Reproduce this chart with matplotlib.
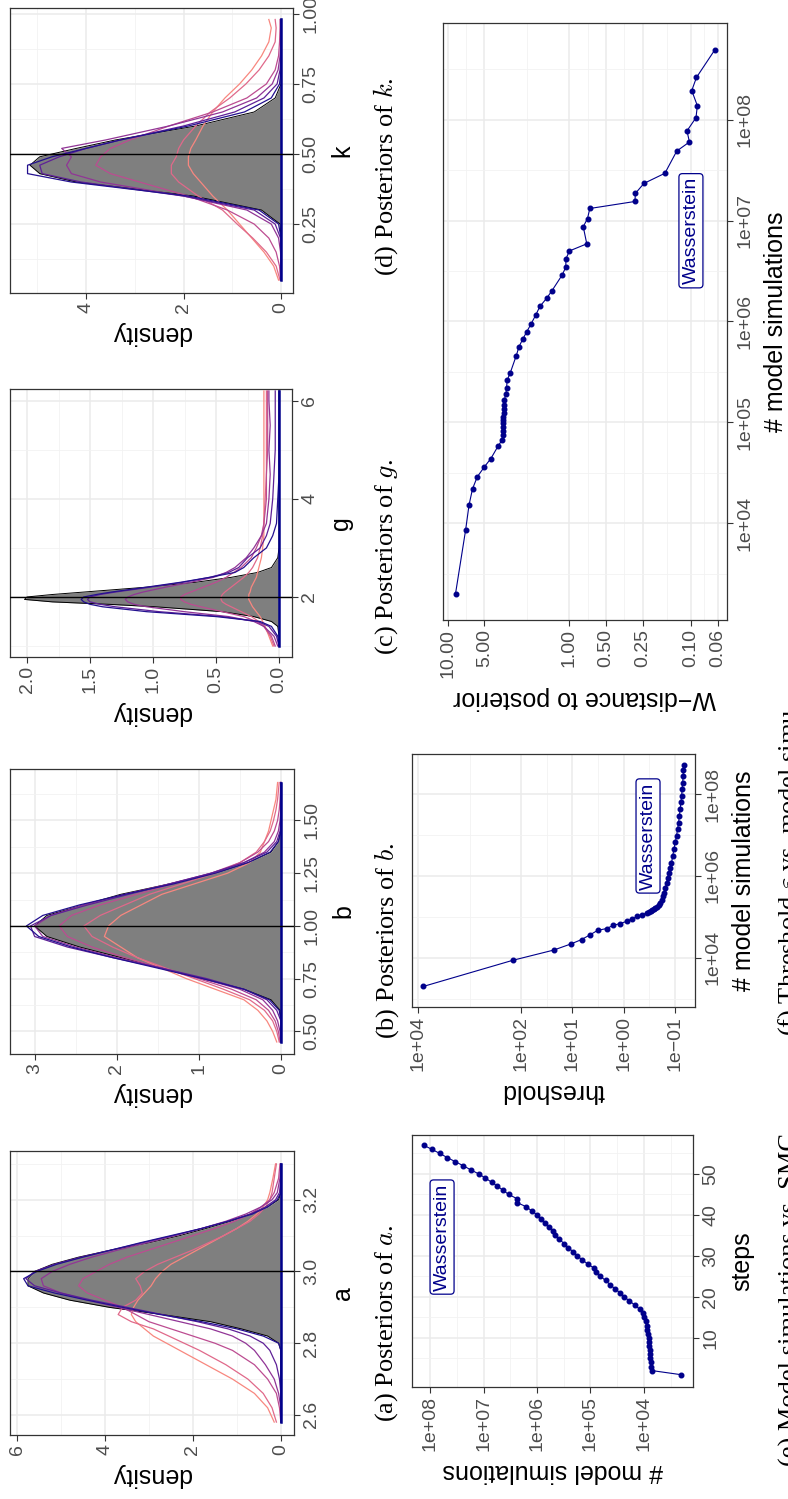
import numpy as np
import matplotlib
matplotlib.use('Agg')
import matplotlib.pyplot as plt

# ---------------- data ----------------
# posterior density panels: parameter grid, gray reference posterior,
# and a handful of SMC-step curves (early -> late)
a_grid = [2.58, 2.62, 2.66, 2.70, 2.74, 2.78, 2.80, 2.82, 2.84, 2.86, 2.88, 2.90, 2.92, 2.94, 2.96,
          2.98, 3.00, 3.02, 3.04, 3.06, 3.08, 3.10, 3.12, 3.14, 3.16, 3.18, 3.20, 3.22, 3.26, 3.30]
a_post = [0, 0, 0, 0, 0, 0, 0.05, 0.3, 0.9, 1.6, 2.7, 3.9, 4.8, 5.4, 5.75,
          5.75, 5.6, 5.2, 4.6, 3.85, 3.0, 2.3, 1.7, 1.15, 0.7, 0.3, 0.05, 0, 0, 0]
a_steps = [
    [0.15, 0.3, 0.6, 1.1, 1.7, 2.3, 2.6, 2.9, 3.1, 3.3, 3.4, 3.35, 3.25, 3.1, 2.95,
     2.85, 2.7, 2.5, 2.2, 1.9, 1.6, 1.3, 1.0, 0.75, 0.55, 0.4, 0.3, 0.25, 0.18, 0.12],
    [0.1, 0.2, 0.4, 0.75, 1.25, 1.85, 2.2, 2.55, 2.9, 3.4, 3.7, 3.6, 3.3, 3.15, 3.2,
     3.3, 3.1, 2.8, 2.4, 2.0, 1.65, 1.3, 1.0, 0.7, 0.5, 0.35, 0.25, 0.2, 0.15, 0.1],
    [0.0, 0.03, 0.1, 0.3, 0.6, 1.1, 1.5, 2.0, 2.5, 3.0, 3.3, 3.6, 4.0, 4.4, 4.6,
     4.5, 4.2, 3.9, 3.5, 3.0, 2.5, 2.0, 1.5, 1.05, 0.7, 0.45, 0.25, 0.15, 0.05, 0.02],
    [0, 0, 0.05, 0.15, 0.35, 0.6, 0.8, 1.1, 1.6, 2.3, 3.0, 3.7, 4.4, 5.0, 5.4,
     5.45, 5.2, 4.8, 4.3, 3.7, 3.05, 2.4, 1.8, 1.25, 0.8, 0.45, 0.2, 0.08, 0.02, 0],
    [0, 0, 0, 0.03, 0.1, 0.25, 0.4, 0.7, 1.2, 1.9, 2.7, 3.5, 4.3, 5.0, 5.6,
     5.8, 5.6, 5.15, 4.55, 3.85, 3.15, 2.45, 1.8, 1.2, 0.7, 0.35, 0.12, 0.03, 0, 0],
    [0, 0, 0, 0, 0, 0, 0.05, 0.4, 1.0, 1.8, 2.75, 3.6, 4.4, 5.15, 5.75,
     5.85, 5.55, 5.1, 4.5, 3.85, 3.2, 2.5, 1.8, 1.2, 0.65, 0.3, 0.08, 0, 0, 0],
]

b_grid = [0.45, 0.50, 0.55, 0.60, 0.65, 0.70, 0.75, 0.80, 0.85, 0.90, 0.95, 1.00, 1.05,
          1.10, 1.15, 1.20, 1.25, 1.30, 1.35, 1.40, 1.45, 1.50, 1.55, 1.60, 1.68]
b_post = [0, 0, 0, 0.01, 0.12, 0.45, 0.95, 1.45, 1.95, 2.45, 2.85, 3.0, 2.85,
          2.4, 1.95, 1.35, 0.8, 0.4, 0.12, 0.03, 0, 0, 0, 0, 0]
b_steps = [
    [0.05, 0.1, 0.17, 0.28, 0.45, 0.8, 1.15, 1.45, 1.75, 1.95, 2.15, 2.1, 1.95,
     1.7, 1.45, 1.05, 0.65, 0.38, 0.25, 0.2, 0.15, 0.12, 0.09, 0.06, 0.04],
    [0.02, 0.05, 0.1, 0.2, 0.38, 0.7, 1.05, 1.4, 1.75, 2.05, 2.3, 2.4, 2.2,
     1.9, 1.6, 1.2, 0.8, 0.5, 0.3, 0.2, 0.13, 0.09, 0.06, 0.04, 0.02],
    [0.01, 0.03, 0.07, 0.15, 0.3, 0.6, 1.0, 1.45, 1.9, 2.3, 2.6, 2.7, 2.55,
     2.2, 1.75, 1.3, 0.85, 0.5, 0.28, 0.15, 0.08, 0.04, 0.02, 0.01, 0],
    [0, 0.01, 0.04, 0.1, 0.22, 0.5, 0.95, 1.45, 2.0, 2.5, 2.9, 3.0, 2.8,
     2.4, 1.9, 1.35, 0.85, 0.45, 0.2, 0.08, 0.03, 0.01, 0, 0, 0],
    [0, 0, 0, 0.05, 0.17, 0.45, 0.9, 1.45, 2.05, 2.6, 3.0, 3.05, 2.8,
     2.35, 1.85, 1.35, 0.85, 0.45, 0.17, 0.05, 0.01, 0, 0, 0, 0],
    [0, 0, 0, 0.02, 0.14, 0.45, 0.95, 1.5, 2.05, 2.55, 2.95, 3.1, 2.9,
     2.45, 1.9, 1.3, 0.8, 0.4, 0.13, 0.03, 0, 0, 0, 0, 0],
]

g_grid = [1.0, 1.2, 1.4, 1.5, 1.6, 1.7, 1.8, 1.85, 1.9, 1.95, 2.0, 2.05, 2.1, 2.2,
          2.3, 2.4, 2.5, 2.6, 2.8, 3.0, 3.25, 3.5, 4.0, 4.5, 5.0, 5.5, 6.0, 6.2]
g_post = [0, 0, 0.01, 0.06, 0.2, 0.45, 0.98, 1.35, 1.8, 2.02, 2.0, 1.8, 1.55, 1.05,
          0.66, 0.38, 0.17, 0.06, 0.01, 0, 0, 0, 0, 0, 0, 0, 0, 0]
g_steps = [
    [0.05, 0.08, 0.11, 0.13, 0.15, 0.18, 0.21, 0.22, 0.23, 0.24, 0.24, 0.24, 0.23, 0.22,
     0.2, 0.18, 0.17, 0.16, 0.14, 0.13, 0.12, 0.12, 0.12, 0.12, 0.12, 0.12, 0.12, 0.12],
    [0.04, 0.07, 0.12, 0.16, 0.22, 0.3, 0.38, 0.42, 0.45, 0.46, 0.46, 0.45, 0.43, 0.38,
     0.33, 0.28, 0.24, 0.21, 0.17, 0.15, 0.13, 0.12, 0.11, 0.1, 0.1, 0.1, 0.1, 0.1],
    [0.03, 0.06, 0.12, 0.18, 0.28, 0.45, 0.62, 0.7, 0.75, 0.78, 0.78, 0.75, 0.7, 0.6,
     0.5, 0.42, 0.36, 0.3, 0.22, 0.18, 0.14, 0.12, 0.1, 0.1, 0.09, 0.09, 0.09, 0.09],
    [0.01, 0.04, 0.12, 0.2, 0.4, 0.75, 1.05, 1.15, 1.2, 1.22, 1.2, 1.15, 1.08, 0.9,
     0.7, 0.52, 0.42, 0.35, 0.26, 0.2, 0.14, 0.1, 0.08, 0.07, 0.08, 0.07, 0.08, 0.08],
    [0, 0.02, 0.08, 0.17, 0.45, 0.95, 1.3, 1.42, 1.5, 1.52, 1.5, 1.42, 1.3, 1.02,
     0.76, 0.55, 0.4, 0.32, 0.25, 0.15, 0.1, 0.07, 0.05, 0.04, 0.03, 0.03, 0.03, 0.03],
    [0, 0.01, 0.06, 0.15, 0.5, 1.05, 1.4, 1.5, 1.55, 1.57, 1.55, 1.45, 1.33, 1.05,
     0.78, 0.55, 0.35, 0.28, 0.2, 0.1, 0.05, 0.02, 0.01, 0, 0, 0, 0, 0],
]

k_grid = [0.05, 0.10, 0.15, 0.20, 0.25, 0.30, 0.35, 0.40, 0.43, 0.46, 0.49,
          0.52, 0.55, 0.60, 0.65, 0.70, 0.75, 0.80, 0.85, 0.90, 0.95, 0.98]
k_post = [0, 0, 0, 0, 0.02, 0.4, 1.8, 4.2, 4.95, 5.15, 4.95,
          4.2, 3.4, 1.75, 0.55, 0.12, 0, 0, 0, 0, 0, 0]
k_steps = [
    [0.05, 0.15, 0.35, 0.6, 0.85, 1.1, 1.4, 1.65, 1.8, 1.9, 1.9,
     1.85, 1.75, 1.6, 1.4, 1.15, 0.85, 0.6, 0.4, 0.25, 0.2, 0.25],
    [0.02, 0.1, 0.3, 0.58, 0.9, 1.2, 1.7, 2.1, 2.25, 2.25, 2.15,
     2.1, 2.0, 1.75, 1.45, 1.05, 0.72, 0.45, 0.25, 0.12, 0.1, 0.12],
    [0.01, 0.03, 0.1, 0.25, 0.55, 1.1, 1.9, 2.9, 3.5, 3.8, 3.7,
     3.5, 3.1, 2.3, 1.4, 0.7, 0.3, 0.12, 0.05, 0.03, 0.02, 0.02],
    [0, 0, 0.01, 0.05, 0.2, 0.7, 2.0, 3.7, 4.3, 4.4, 4.3,
     4.5, 3.6, 2.3, 1.2, 0.5, 0.18, 0.06, 0.02, 0, 0, 0],
    [0, 0, 0, 0.01, 0.12, 0.55, 2.0, 4.1, 4.9, 4.95, 4.55,
     4.0, 3.3, 2.0, 0.95, 0.35, 0.08, 0.02, 0, 0, 0, 0],
    [0, 0, 0, 0, 0.05, 0.45, 1.9, 4.3, 5.2, 5.2, 4.7,
     4.0, 3.3, 1.9, 0.75, 0.2, 0.03, 0, 0, 0, 0, 0],
]

# (e) model simulations per SMC step
e_steps = list(range(1, 58))
e_sims = [2.0e3, 7.0e3, 7.2e3, 7.4e3, 7.6e3, 7.7e3, 7.8e3, 7.9e3, 8.0e3, 8.1e3,
          8.3e3, 8.6e3, 8.9e3, 9.3e3, 9.8e3, 1.02e4, 1.2e4, 1.48e4, 1.86e4, 2.34e4,
          2.8e4, 3.5e4, 4.3e4, 5.2e4, 6.5e4, 7.9e4, 8.5e4, 1.12e5, 1.41e5, 1.78e5,
          2.1e5, 2.6e5, 3.1e5, 3.8e5, 4.6e5, 5.0e5, 6.0e5, 7.2e5, 8.5e5, 1.0e6,
          1.26e6, 1.6e6, 2.35e6, 2.4e6, 3.4e6, 4.3e6, 5.5e6, 7.1e6, 9.3e6, 1.23e7,
          1.74e7, 2.4e7, 3.4e7, 4.8e7, 6.6e7, 9.3e7, 1.32e8]

# (f) threshold vs model simulations
f_thresh = [8000, 145, 23, 10.5, 6.6, 4.6, 3.2, 2.15, 1.6, 1.17, 0.87, 0.68, 0.54, 0.44, 0.35,
            0.316, 0.295, 0.275, 0.257, 0.240, 0.224, 0.209, 0.195, 0.182, 0.174,
            0.162, 0.155, 0.145, 0.138, 0.132, 0.124, 0.117, 0.111, 0.105, 0.0989,
            0.0933, 0.0891, 0.0851, 0.0822, 0.0794, 0.0767, 0.0741, 0.0724, 0.0708,
            0.0692, 0.0684, 0.0676]
f_sims = [2.0e3, 8.7e3, 1.55e4, 2.2e4, 2.8e4, 3.6e4, 4.7e4, 5.2e4, 6.2e4, 6.9e4, 7.8e4,
          8.9e4, 1.05e5, 1.12e5, 1.26e5,
          1.35e5, 1.41e5, 1.48e5, 1.55e5, 1.66e5, 1.78e5, 1.95e5, 2.19e5, 2.63e5, 3.16e5,
          3.8e5, 5.0e5, 6.76e5, 8.9e5, 1.2e6, 1.58e6, 2.09e6, 3.0e6, 4.47e6, 6.6e6,
          9.5e6, 1.38e7, 2.0e7, 2.88e7, 4.27e7, 6.3e7, 9.1e7, 1.32e8, 1.9e8,
          2.75e8, 3.8e8, 5.25e8]

# W-distance to posterior vs model simulations
w_dist = [8.65, 7.15, 6.7, 6.27, 5.73, 5.0, 4.43, 3.84, 3.6, 3.51, 3.51, 3.50, 3.50,
          3.49, 3.49, 3.48, 3.48, 3.46, 3.44, 3.33, 3.29, 3.25, 3.07, 2.74, 2.6, 2.41,
          2.24, 2.06, 1.90, 1.75, 1.54, 1.40, 1.15, 1.07, 1.07, 1.0, 0.72, 0.77, 0.71,
          0.68, 0.289, 0.287, 0.244, 0.164, 0.131, 0.103, 0.108, 0.091, 0.0887,
          0.0986, 0.0902, 0.064]
w_sims = [2.0e3, 8.5e3, 1.51e4, 2.19e4, 2.88e4, 3.63e4, 4.37e4, 5.89e4, 6.61e4, 7.41e4,
          8.13e4, 8.91e4, 9.77e4, 1.05e5, 1.12e5, 1.23e5, 1.35e5, 1.48e5, 1.66e5, 1.91e5,
          2.19e5, 2.63e5, 3.09e5, 4.57e5, 5.62e5, 6.76e5, 7.94e5, 9.55e5, 1.15e6, 1.41e6,
          1.70e6, 2.0e6, 2.88e6, 3.47e6, 4.17e6, 5.01e6, 5.89e6, 8.71e6, 1.05e7, 1.32e7,
          1.55e7, 1.86e7, 2.34e7, 2.95e7, 4.9e7, 6.03e7, 7.76e7, 1.05e8, 1.38e8, 1.95e8,
          2.63e8, 4.9e8]

sim_ticks = [1e4, 1e5, 1e6, 1e7, 1e8]
sim_labels = ['1e+04', '1e+05', '1e+06', '1e+07', '1e+08']
thr_ticks = [1e4, 1e2, 1e1, 1e0, 1e-1]
thr_labels = ['1e+04', '1e+02', '1e+01', '1e+00', '1e\u221201']
w_ticks = [10, 5, 1, 0.5, 0.25, 0.1, 0.06]
w_labels = ['10.00', '5.00', '1.00', '0.50', '0.25', '0.10', '0.06']

# ---------------- figure ----------------
plt.rcParams['font.family'] = ['Liberation Sans', 'DejaVu Sans']
plt.rcParams['mathtext.fontset'] = 'cm'

W, H = 788, 1499
fig = plt.figure(figsize=(W / 100, H / 100), dpi=100)

INK = '#333333'
TICKC = '#4D4D4D'
BLUE = '#00008B'
CURVE_COLS = ['#F8877F', '#E0698A', '#BC4C91', '#913596', '#5E2097', '#23108F']
TICK_FS = 14
TITLE_FS = 18
CAP_FS = 19


def px_axes(x0, y0, x1, y1):
    return fig.add_axes([x0 / W, 1 - y1 / H, (x1 - x0) / W, (y1 - y0) / H])


def mids(ticks, lo, hi, log=False):
    t = np.sort(np.log10(ticks) if log else np.asarray(ticks, float))
    ext = np.concatenate([[2 * t[0] - t[1]], t, [2 * t[-1] - t[-2]]])
    m = (ext[:-1] + ext[1:]) / 2
    if log:
        m = 10 ** m
    return [v for v in m if min(lo, hi) < v < max(lo, hi)]


def style(ax):
    for s in ax.spines.values():
        s.set_color(INK)
        s.set_linewidth(0.9)
    ax.set_axisbelow(True)
    ax.grid(which='major', color='#EBEBEB', lw=1.1)
    ax.grid(which='minor', color='#F2F2F2', lw=0.6)
    ax.tick_params(which='major', length=4, width=0.8, color=INK,
                   labelcolor=TICKC, labelsize=TICK_FS, pad=2.5)
    ax.tick_params(which='minor', length=0)
    ax.yaxis.tick_right()
    ax.yaxis.set_label_position('right')


def density_panel(box, grid, post, steps, truth, plim, dlim,
                  pticks, plabels, dticks, dlabels, name):
    ax = px_axes(*box)
    style(ax)
    ax.set_ylim(plim)
    ax.set_xlim(dlim[1], dlim[0])
    ax.set_yticks(pticks, plabels, rotation=90, va='center')
    ax.set_xticks(dticks, dlabels, rotation=90)
    ax.set_yticks(mids(pticks, *plim), minor=True)
    ax.set_xticks(mids(dticks, *dlim), minor=True)
    ax.fill_betweenx(grid, 0, post, color='#7F7F7F', lw=0, zorder=2)
    ax.plot(post, grid, color='black', lw=0.7, zorder=2)
    for dens, col in zip(steps, CURVE_COLS):
        ax.plot(dens, grid, color=col, lw=0.9, zorder=3)
    ax.plot([0, 0], [grid[0], grid[-1]], color=BLUE, lw=1.8, zorder=4)
    ax.axhline(truth, color='black', lw=1.0, zorder=5)
    ax.set_ylabel(name, rotation=90, fontsize=TITLE_FS, labelpad=8)
    ax.set_xlabel('density', rotation=180, fontsize=TITLE_FS, labelpad=6)
    return ax


density_panel((10, 8, 293, 293), k_grid, k_post, k_steps, 0.5, (0.004, 1.021), (-0.246, 5.56),
              [0.25, 0.5, 0.75, 1.0], ['0.25', '0.50', '0.75', '1.00'],
              [0, 2, 4], ['0', '2', '4'], 'k')
density_panel((10, 389, 292, 657), g_grid, g_post, g_steps, 2.0, (0.776, 6.24), (-0.103, 2.135),
              [2, 4, 6], ['2', '4', '6'],
              [0, 0.5, 1.0, 1.5, 2.0], ['0.0', '0.5', '1.0', '1.5', '2.0'], 'g')
density_panel((10, 769, 294, 1054), b_grid, b_post, b_steps, 1.0, (0.393, 1.744), (-0.16, 3.30),
              [0.5, 0.75, 1.0, 1.25, 1.5], ['0.50', '0.75', '1.00', '1.25', '1.50'],
              [0, 1, 2, 3], ['0', '1', '2', '3'], 'b')
density_panel((10, 1151, 294, 1435), a_grid, a_post, a_steps, 3.0, (2.544, 3.336), (-0.3, 6.16),
              [2.6, 2.8, 3.0, 3.2], ['2.6', '2.8', '3.0', '3.2'],
              [0, 2, 4, 6], ['0', '2', '4', '6'], 'a')


def line_panel(box, xs, ys, xlim, ylim, xlog, ylog, xticks, xlabels, yticks, ylabels,
               xtitle, ytitle, lab_pos):
    ax = px_axes(*box)
    style(ax)
    if xlog:
        ax.set_xscale('log')
    if ylog:
        ax.set_yscale('log')
    ax.set_xlim(xlim)
    ax.set_ylim(ylim)
    ax.set_xticks(xticks, xlabels, rotation=90)
    ax.set_yticks(yticks, ylabels, rotation=90, va='center')
    ax.set_xticks(mids(xticks, *xlim, log=xlog), minor=True)
    ax.set_yticks(mids(yticks, *ylim, log=ylog), minor=True)
    ax.xaxis.set_minor_formatter(plt.NullFormatter())
    ax.yaxis.set_minor_formatter(plt.NullFormatter())
    ax.plot(xs, ys, '-o', color=BLUE, lw=0.8, ms=3.3, zorder=3)
    ax.text(lab_pos[0], lab_pos[1], 'Wasserstein', transform=ax.transAxes, rotation=90,
            ha='center', va='center', color=BLUE, fontsize=14, zorder=4,
            bbox=dict(boxstyle='round,pad=0.18', fc='white', ec=BLUE, lw=0.9))
    ax.set_xlabel(xtitle, rotation=180, fontsize=TITLE_FS, labelpad=6)
    ax.set_ylabel(ytitle, rotation=90, fontsize=TITLE_FS, labelpad=8)
    return ax


line_panel((443, 23, 727, 620), w_dist, w_sims, (10 ** 1.04, 10 ** -1.296), (10 ** 3.04, 10 ** 8.96),
           True, True, w_ticks, w_labels, sim_ticks, sim_labels,
           'W\u2212distance to posterior', '# model simulations', (0.873, 0.652))
line_panel((412, 754, 695, 1007), f_thresh, f_sims, (10 ** 4.12, 10 ** -1.39), (10 ** 2.8, 10 ** 8.98),
           True, True, thr_ticks, thr_labels, [1e4, 1e6, 1e8], ['1e+04', '1e+06', '1e+08'],
           'threshold', '# model simulations', (0.834, 0.676))
line_panel((412, 1135, 693, 1387), e_sims, e_steps, (10 ** 8.34, 10 ** 3.08), (-2.0, 59.5),
           True, False, sim_ticks, sim_labels, [10, 20, 30, 40, 50], ['10', '20', '30', '40', '50'],
           '# model simulations', 'steps', (0.107, 0.595))

# captions (serif, rotated with the page)
caps = [('(d) Posteriors of $k$.', 386, 177, 'center'),
        ('(c) Posteriors of $g$.', 387, 557, 'center'),
        ('(b) Posteriors of $b$.', 387, 941, 'center'),
        ('(a) Posteriors of $a$.', 387, 1323, 'center'),
        ('(f) Threshold $\\varepsilon$ vs. model simu-', 790, 700, 'top'),
        ('(e) Model simulations vs. SMC', 790, 1133, 'top')]
for txt, x, y, va in caps:
    fig.text(x / W, 1 - y / H, txt, rotation=90, ha='center', va=va,
             family='Liberation Serif', fontsize=CAP_FS)

fig.savefig('out.png', dpi=100)
